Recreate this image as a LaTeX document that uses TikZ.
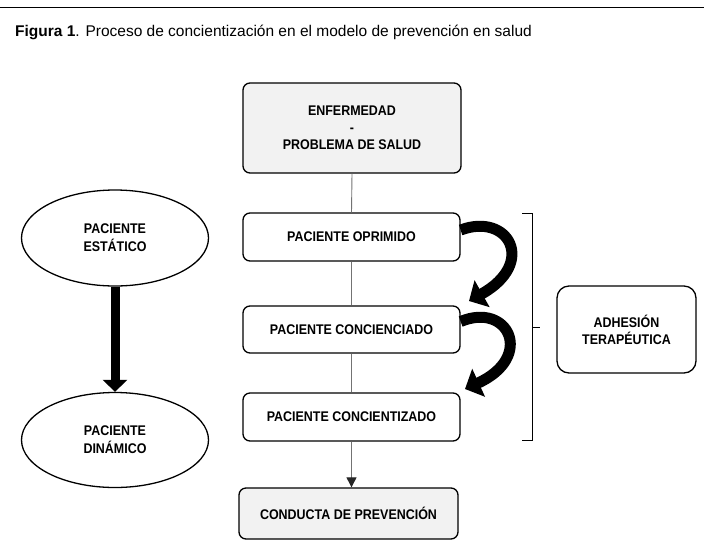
\documentclass[tikz,border=0pt]{standalone}
\usepackage{fontspec}
\setmainfont{Liberation Sans}[FakeStretch=0.89]
\newfontfamily\captionfont{Liberation Sans}
\usetikzlibrary{arrows.meta,shapes.geometric}
\definecolor{boxgray}{gray}{0.95}
\definecolor{linkgray}{gray}{0.45}

\begin{document}
\begin{tikzpicture}[x=1pt, y=-1pt,
    every node/.style={font=\bfseries\fontsize{14}{17}\selectfont, align=center, inner sep=0pt},
    stage/.style={draw, line width=1.3pt, rounded corners=7pt, minimum width=217pt, minimum height=48pt},
    keybox/.style={stage, fill=boxgray},
    patient/.style={draw, ellipse, line width=1.3pt, minimum width=187pt, minimum height=96pt},
    link/.style={draw=linkgray, line width=0.9pt},
    bigturn/.style={line width=11pt, -{Triangle[length=15pt, width=30pt]}}]
    \useasboundingbox (0,0) rectangle (709,555);

    % Rule and caption
    \draw[line width=1pt] (0,7) -- (704,7);
    \node[anchor=base west, font=\captionfont\fontsize{15.5}{18}\selectfont] (title) at (15,36)
        {\textbf{Figura 1}. Proceso de concientización en el modelo de prevención en salud};

    % Central column of stages
    \node[keybox, minimum height=90pt, minimum width=218pt] (enf) at (352,128) {ENFERMEDAD\\-\\PROBLEMA DE SALUD};
    \node[stage] (opr) at (351.5,237) {PACIENTE OPRIMIDO};
    \node[stage, minimum height=47pt] (ccd) at (351.5,329.5) {PACIENTE CONCIENCIADO};
    \node[stage] (ctz) at (351.5,417) {PACIENTE CONCIENTIZADO};
    \node[keybox, minimum height=51pt, minimum width=219pt] (cond) at (348.5,513.5) {CONDUCTA DE PREVENCIÓN};

    % Left: static to dynamic patient
    \node[patient] (est) at (115,238) {PACIENTE\\[1pt]ESTÁTICO};
    \node[patient, minimum height=95pt] (din) at (115,440) {PACIENTE\\[1pt]DINÁMICO};

    % Right: therapeutic adhesion
    \node[stage, rounded corners=12pt, minimum width=139pt, minimum height=87pt] (adh) at (626.5,329.5) {ADHESIÓN\\TERAPÉUTICA};

    % Thin connectors down the column
    \draw[link] (enf.south) -- (opr.north);
    \draw[link] (opr.south) -- (ccd.north);
    \draw[link] (ccd.south) -- (ctz.north);
    \draw[link, -{Triangle[length=10pt, width=10pt, color=black!85]}] (ctz.south) -- (ctz.south |- cond.north);

    % Thick arrows
    \draw[line width=9pt, -{Triangle[length=12pt, width=24pt]}] (est.south) -- (din.north);
    \coordinate (tip1) at (469,301);
    \coordinate (tip2) at (465,389);
    \draw[bigturn] ([yshift=7pt]opr.east) .. controls +(48,-18) and +(68,-38) .. (tip1);
    \draw[bigturn] ([yshift=8pt]ccd.east) .. controls +(48,-20) and +(70,-32) .. (tip2);

    % Bracket grouping the three patient stages
    \coordinate (bt) at (532,213);
    \coordinate (bb) at (532,440);
    \draw[line width=0.9pt] ([xshift=-10pt]bt) -- (bt) -- (bb) -- ([xshift=-10pt]bb);
    \draw[line width=0.9pt] (532,327) -- (540,327);
\end{tikzpicture}
\end{document}
